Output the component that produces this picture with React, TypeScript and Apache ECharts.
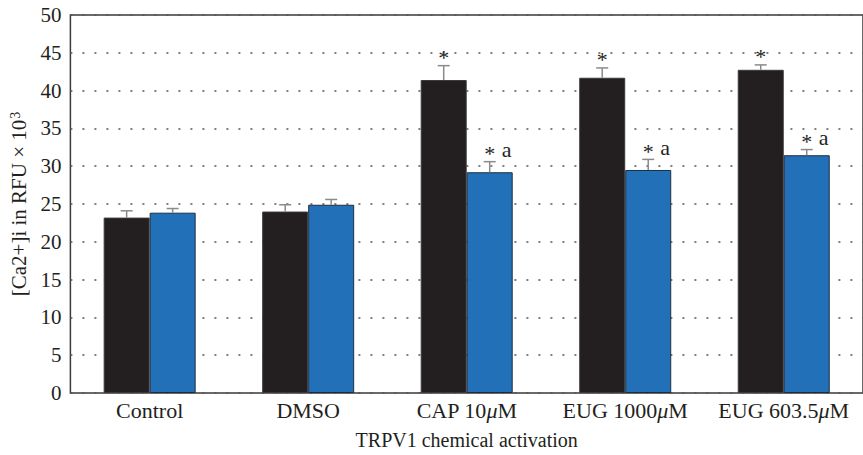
import React, { useEffect, useRef } from "react";
import * as echarts from "echarts";

const categories = ["Control", "DMSO", "CAP 10μM", "EUG 1000μM", "EUG 603.5μM"];
const blackValues = [23.2, 24.0, 41.4, 41.7, 42.75];
const blackErrTop = [24.1, 24.9, 43.3, 43.0, 43.4];
const blackMarks = ["", "", "*", "*", "*"];
const blueValues = [23.85, 24.9, 29.2, 29.5, 31.45];
const blueErrTop = [24.4, 25.6, 30.6, 30.9, 32.2];
const blueMarks = ["", "", "* a", "* a", "* a"];
const yTicks = [0, 5, 10, 15, 20, 25, 30, 35, 40, 45, 50];

const FONT = "'Liberation Serif', 'DejaVu Serif', serif";
const BAR_W = 46;

function errSeries(name: string, values: number[], tops: number[], marks: string[], side: number) {
  return {
    type: "custom",
    name,
    z: 5,
    silent: true,
    data: values.map((v, i) => [i, v, tops[i]]),
    renderItem: (params: any, api: any) => {
      const idx = api.value(0);
      const val = api.value(1);
      const top = api.value(2);
      const b = api.coord([idx, val]);
      const t = api.coord([idx, top]);
      const x = b[0] + side * (BAR_W / 2);
      const children: any[] = [
        { type: "line", shape: { x1: x, y1: b[1], x2: x, y2: t[1] }, style: { stroke: "#8a8a8a", lineWidth: 1.5 } },
        { type: "line", shape: { x1: x - 6, y1: t[1], x2: x + 6, y2: t[1] }, style: { stroke: "#8a8a8a", lineWidth: 1.5 } },
      ];
      const m = marks[params.dataIndex];
      if (m) {
        children.push({
          type: "text",
          style: { text: "*", x, y: t[1] - 8, align: "center", verticalAlign: "middle", font: `22px ${FONT}`, fill: "#231f20" },
        });
        if (m.indexOf("a") >= 0) {
          children.push({
            type: "text",
            style: { text: "a", x: x + 17, y: t[1] - 12, align: "center", verticalAlign: "middle", font: `22px ${FONT}`, fill: "#231f20" },
          });
        }
      }
      return { type: "group", children };
    },
  };
}

export default function App() {
  const ref = useRef<HTMLDivElement>(null);
  useEffect(() => {
    if (!ref.current) return;
    const chart = echarts.init(ref.current, undefined, { renderer: "svg" });
    chart.setOption({
      animation: false,
      backgroundColor: "#ffffff",
      grid: {
        left: 70,
        top: 15,
        width: 802,
        height: 378,
        show: true,
        borderColor: "#3a3a3a",
        borderWidth: 1.5,
        backgroundColor: "transparent",
      },
      xAxis: {
        type: "category",
        data: categories,
        axisLine: { show: false },
        axisTick: { show: false },
        axisLabel: {
          interval: 0,
          margin: 6,
          fontFamily: FONT,
          fontSize: 22,
          color: "#231f20",
          formatter: (v: string) => v.replace("μ", "{i|μ}"),
          rich: { i: { fontFamily: FONT, fontSize: 22, fontStyle: "italic", color: "#231f20" } },
        },
        name: "TRPV1 chemical activation",
        nameLocation: "middle",
        nameGap: 37,
        nameTextStyle: { fontFamily: FONT, fontSize: 20, color: "#231f20" },
      },
      yAxis: {
        type: "value",
        min: 0,
        max: 50,
        interval: 5,
        axisLine: { show: false },
        axisTick: { show: false },
        axisLabel: {
          margin: 9,
          fontFamily: FONT,
          fontSize: 21,
          color: "#231f20",
          formatter: (v: number) => (yTicks.indexOf(v) >= 0 ? String(v) : ""),
        },
        splitLine: { show: true, lineStyle: { color: "#555", width: 1.5, type: [2, 10] } },
        name: "[Ca2+]i in RFU × 10{sup|3}",
        nameLocation: "middle",
        nameRotate: 90,
        nameGap: 40,
        nameTextStyle: {
          fontFamily: FONT,
          fontSize: 21,
          color: "#231f20",
          rich: { sup: { fontFamily: FONT, fontSize: 14, color: "#231f20", verticalAlign: "top", padding: [0, 0, 8, 1] } },
        },
      },
      series: [
        {
          type: "bar",
          name: "black",
          data: blackValues,
          barWidth: BAR_W,
          barGap: "0%",
          itemStyle: { color: "#231f20", borderColor: "#3a3a3a", borderWidth: 1 },
          z: 3,
        },
        {
          type: "bar",
          name: "blue",
          data: blueValues,
          barWidth: BAR_W,
          barGap: "0%",
          itemStyle: { color: "#2271b8", borderColor: "#1f2d40", borderWidth: 1 },
          z: 3,
        },
        errSeries("blackErr", blackValues, blackErrTop, blackMarks, -1),
        errSeries("blueErr", blueValues, blueErrTop, blueMarks, 1),
      ],
    });
    return () => chart.dispose();
  }, []);
  return <div ref={ref} style={{ position: "fixed", left: 0, top: 0, width: 863, height: 455 }} />;
}
